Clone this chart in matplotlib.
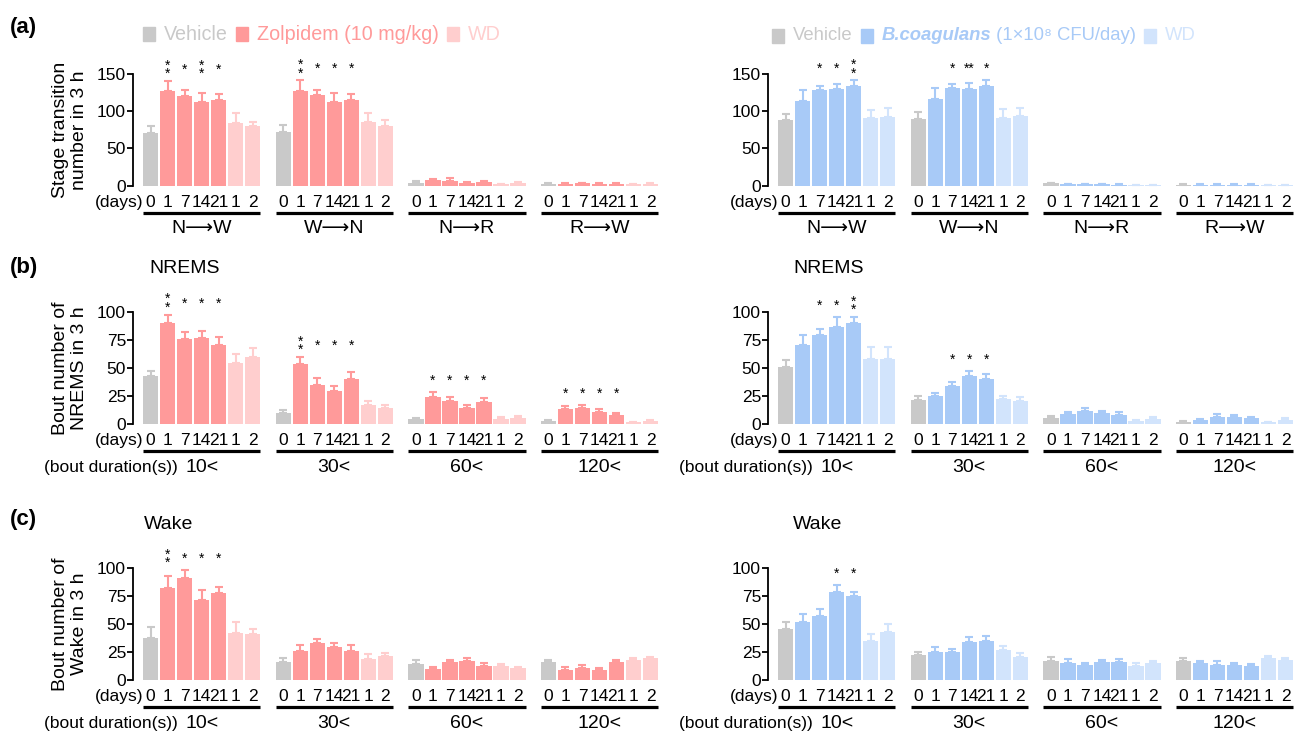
import matplotlib.pyplot as plt
import numpy as np
from matplotlib.patches import Rectangle

plt.rcParams['font.family'] = ['Liberation Sans', 'DejaVu Sans']

# ---- data ----
days = ["0", "1", "7", "14", "21", "1", "2"]
transitions = ["N⟶W", "W⟶N", "N⟶R", "R⟶W"]
durations = ["10<", "30<", "60<", "120<"]

# (a) stage transitions, zolpidem
zolp_trans_mean = [[71, 127, 120, 112, 115, 84, 80],
                   [72.5, 127.6, 122, 113, 115, 85, 80.6],
                   [4, 7, 6.3, 3.6, 4.5, 1.8, 3],
                   [2.7, 2.2, 3, 2.7, 2.2, 1.8, 2.7]]
zolp_trans_err = [[9, 14, 8.5, 12, 8, 13, 6],
                  [9.5, 14, 7, 11.5, 8.6, 12, 7.4],
                  [1.8, 2, 3.7, 0.9, 1.8, 0.9, 2],
                  [0.9, 0.8, 1, 0.9, 0.8, 0.5, 0.9]]
zolp_trans_sig = [["", "*\n*", "*", "*\n*", "*", "", ""],
                  ["", "*\n*", "*", "*", "*", "", ""],
                  [""] * 7, [""] * 7]

# (a) stage transitions, B. coagulans
bc_trans_mean = [[88, 114, 129, 129.4, 134, 90.5, 92.7],
                 [89.6, 116.4, 131.7, 130, 134.3, 91.4, 93.6],
                 [3, 2, 2, 2, 1.5, 1, 1],
                 [1.5, 1.5, 1.5, 1.5, 1.5, 1.2, 1.2]]
bc_trans_err = [[8.7, 14, 5, 7.6, 7.5, 10.5, 11.3],
                [9.4, 14.6, 4.9, 7.5, 7.2, 11.1, 11.2],
                [1, 0.8, 0.8, 0.8, 0.5, 0.4, 0.4],
                [0.4, 0.4, 0.4, 0.4, 0.4, 0.3, 0.3]]
bc_trans_sig = [["", "", "*", "*", "*\n*", "", ""],
                ["", "", "*", "**", "*", "", ""],
                [""] * 7, [""] * 7]

# (b) NREMS bouts
zolp_nrem_mean = [[43.3, 90, 76, 76.7, 70.7, 54.3, 60.3],
                  [10, 53.7, 35, 29.6, 40, 17, 14.6],
                  [4.5, 23.9, 21, 14.6, 19.4, 4.2, 5],
                  [2.7, 13, 14, 11, 8, 1.5, 2.5]]
zolp_nrem_err = [[4.2, 8, 6.4, 6.9, 6.9, 8.7, 8.1],
                 [2.2, 6.6, 6, 4.1, 7, 4, 2.4],
                 [1.2, 4.5, 3.2, 2.7, 3.6, 1.8, 2],
                 [1.2, 2.8, 2.7, 2.4, 1.9, 0.5, 1]]
zolp_nrem_sig = [["", "*\n*", "*", "*", "*", "", ""],
                 ["", "*\n*", "*", "*", "*", "", ""],
                 ["", "*", "*", "*", "*", "", ""],
                 ["", "*", "*", "*", "*", "", ""]]

bc_nrem_mean = [[51.3, 71, 79.4, 86.9, 90, 58.5, 58.5],
                [21.5, 25.4, 34, 42.7, 40, 22.4, 20.6],
                [5.7, 9, 11.6, 9.6, 8.4, 2.7, 4.8],
                [2.1, 3.3, 6.6, 6.6, 5.4, 1.5, 3.9]]
bc_nrem_err = [[6, 8.4, 5.4, 9.1, 6, 10.8, 10.1],
               [3.9, 2.4, 3.3, 5.1, 4.5, 2.6, 3.6],
               [1.2, 2, 3, 1.7, 2, 0.9, 1.8],
               [0.9, 0.9, 2.1, 1.8, 1.2, 0.6, 1.2]]
bc_nrem_sig = [["", "", "*", "*", "*\n*", "", ""],
               ["", "", "*", "*", "*", "", ""],
               [""] * 7, [""] * 7]

# (c) Wake bouts
zolp_wake_mean = [[37.6, 82.4, 91.3, 71.6, 78.2, 42, 40.9],
                  [16.4, 26.3, 32.8, 29.9, 25.7, 18.8, 21.2],
                  [14.6, 9.9, 16.1, 17, 12.8, 12.2, 10.4],
                  [16.4, 9, 10.7, 9, 15.8, 17.9, 19.7]]
zolp_wake_err = [[9.6, 10.6, 7.2, 9, 5.4, 10, 4.5],
                 [3.6, 5, 3.9, 3.2, 5.3, 4.5, 3],
                 [3.6, 2, 2.1, 3, 2.7, 2.4, 1.6],
                 [1.8, 2.3, 2.4, 1.4, 1.8, 1.5, 1.2]]
zolp_wake_sig = [["", "*\n*", "*", "*", "*", "", ""],
                 [""] * 7, [""] * 7, [""] * 7]

bc_wake_mean = [[46, 51.6, 57, 78.8, 75.5, 35, 42.7],
                [22.7, 25.4, 25.4, 33.7, 35.2, 26.6, 20.6],
                [16.7, 15.2, 13.1, 16.1, 16.1, 12.8, 14.9],
                [17, 15.5, 13.7, 13.1, 12.5, 19.7, 17.9]]
bc_wake_err = [[6.2, 7.8, 7, 6, 3.5, 6, 7.2],
               [2.7, 3.9, 2.6, 4.8, 3.8, 3.5, 3.3],
               [4.2, 3.3, 2.4, 2.1, 2.4, 2.4, 2.4],
               [2.4, 1.5, 3, 1.8, 1.8, 1.8, 2.1]]
bc_wake_sig = [["", "", "", "*", "*", "", ""],
               [""] * 7, [""] * 7, [""] * 7]

# ---- style ----
gray = "#c9c9c9"
zolp_pal = [gray, "#ff9a9a", "#ffcece"]
bc_pal = [gray, "#a8caf7", "#d2e4fc"]
group_step = 7.8
W, H = 1295, 738

fig = plt.figure(figsize=(W / 100, H / 100), dpi=100)


def draw_panel(ax, means, errs, sigs, ymax, yticks, group_names, pal,
               ylabel=None, title=None, title_x=0.03, duration=False):
    means = np.array(means)
    errs = np.array(errs)
    n_groups, n_bars = means.shape
    x = np.arange(n_groups)[:, None] * group_step + np.arange(n_bars)[None, :]
    cols = [pal[0]] + [pal[1]] * 4 + [pal[2]] * 2
    tr = ax.get_xaxis_transform()
    for g in range(n_groups):
        ax.bar(x[g], means[g], width=0.9, color=cols)
        for i in range(n_bars):
            ax.errorbar(x[g, i], means[g, i], yerr=[[0], [errs[g, i]]], fmt='none',
                        ecolor=cols[i], elinewidth=1.5, capsize=3, capthick=1.5)
        top = (means[g] + errs[g]).max()
        for i, s in enumerate(sigs[g]):
            if s:
                ax.annotate(s, (x[g, i], top), xytext=(0, 8), textcoords='offset points',
                            ha='center', va='center', fontsize=10, linespacing=0.5)
        for i, d in enumerate(days):
            ax.text(x[g, i], -0.148, d, transform=tr, ha='center', va='center', fontsize=12.5)
        ax.plot([x[g, 0] - 0.45, x[g, -1] + 0.45], [-0.24, -0.24], transform=tr,
                color='black', lw=2.3, clip_on=False, solid_capstyle='butt')
        ax.text(x[g].mean(), -0.385, group_names[g], transform=tr, ha='center',
                va='center', fontsize=14)
    ax.text(x[0, 0] - 0.45, -0.148, "(days)", transform=tr, ha='right', va='center', fontsize=12.5)
    if duration:
        ax.text(x[0].mean() - 1.4, -0.385, "(bout duration(s))", transform=tr,
                ha='right', va='center', fontsize=12.5)
    ax.set_xlim(-1.04, 29.96)
    ax.set_ylim(0, ymax)
    ax.set_yticks(yticks)
    ax.set_xticks([])
    for sp in ['top', 'right', 'bottom']:
        ax.spines[sp].set_visible(False)
    ax.spines['left'].set_linewidth(1.3)
    ax.tick_params(axis='y', direction='out', length=4, width=1.3, labelsize=12.5, pad=1)
    if ylabel:
        ax.set_ylabel(ylabel, fontsize=14)
        ax.yaxis.set_label_coords(-0.085, 0.5)
    if title:
        ax.text(title_x, 1.39, title, transform=ax.transAxes, ha='left', va='center', fontsize=14)


def legend_row(x_px, y_px, items, size):
    renderer = fig.canvas.get_renderer()
    yf = 1 - y_px / H
    for color, parts in items:
        fig.add_artist(Rectangle((x_px / W, yf - 6.5 / H), 12 / W, 13 / H,
                                 transform=fig.transFigure, color=color))
        x_px += 12 + 9
        for txt, style in parts:
            t = fig.text(x_px / W, yf, txt, color=color, va='center', ha='left',
                         fontsize=size, **style)
            x_px += t.get_window_extent(renderer).width
        x_px += 8


rows = [(1 - 185.7 / H), (1 - 424 / H), (1 - 680 / H)]
ax_h = 111.7 / H
lx, rx, aw = 133 / W, 768 / W, 527 / W

ax = fig.add_axes([lx, rows[0], aw, ax_h])
draw_panel(ax, zolp_trans_mean, zolp_trans_err, zolp_trans_sig, 150, [0, 50, 100, 150],
           transitions, zolp_pal, ylabel="Stage transition\nnumber in 3 h")
ax = fig.add_axes([rx, rows[0], aw, ax_h])
draw_panel(ax, bc_trans_mean, bc_trans_err, bc_trans_sig, 150, [0, 50, 100, 150],
           transitions, bc_pal)

ax = fig.add_axes([lx, rows[1], aw, ax_h])
draw_panel(ax, zolp_nrem_mean, zolp_nrem_err, zolp_nrem_sig, 100, [0, 25, 50, 75, 100],
           durations, zolp_pal, ylabel="Bout number of\nNREMS in 3 h", title="NREMS",
           title_x=0.032, duration=True)
ax = fig.add_axes([rx, rows[1], aw, ax_h])
draw_panel(ax, bc_nrem_mean, bc_nrem_err, bc_nrem_sig, 100, [0, 25, 50, 75, 100],
           durations, bc_pal, title="NREMS", title_x=0.048, duration=True)

ax = fig.add_axes([lx, rows[2], aw, ax_h])
draw_panel(ax, zolp_wake_mean, zolp_wake_err, zolp_wake_sig, 100, [0, 25, 50, 75, 100],
           durations, zolp_pal, ylabel="Bout number of\nWake in 3 h", title="Wake",
           title_x=0.02, duration=True)
ax = fig.add_axes([rx, rows[2], aw, ax_h])
draw_panel(ax, bc_wake_mean, bc_wake_err, bc_wake_sig, 100, [0, 25, 50, 75, 100],
           durations, bc_pal, title="Wake", title_x=0.048, duration=True)

for lab, ypx in [("(a)", 28), ("(b)", 268), ("(c)", 520)]:
    fig.text(10 / W, 1 - ypx / H, lab, fontsize=16, fontweight='bold', va='center', ha='left')

legend_row(143, 34, [(gray, [("Vehicle", {})]),
                     (zolp_pal[1], [("Zolpidem (10 mg/kg)", {})]),
                     (zolp_pal[2], [("WD", {})])], 14.2)
legend_row(772, 36, [(gray, [("Vehicle", {})]),
                     (bc_pal[1], [("B.coagulans", {'fontweight': 'bold', 'fontstyle': 'italic'}),
                                  (" (1×10⁸ CFU/day)", {})]),
                     (bc_pal[2], [("WD", {})])], 13.3)

fig.savefig("out.png", dpi=100)
